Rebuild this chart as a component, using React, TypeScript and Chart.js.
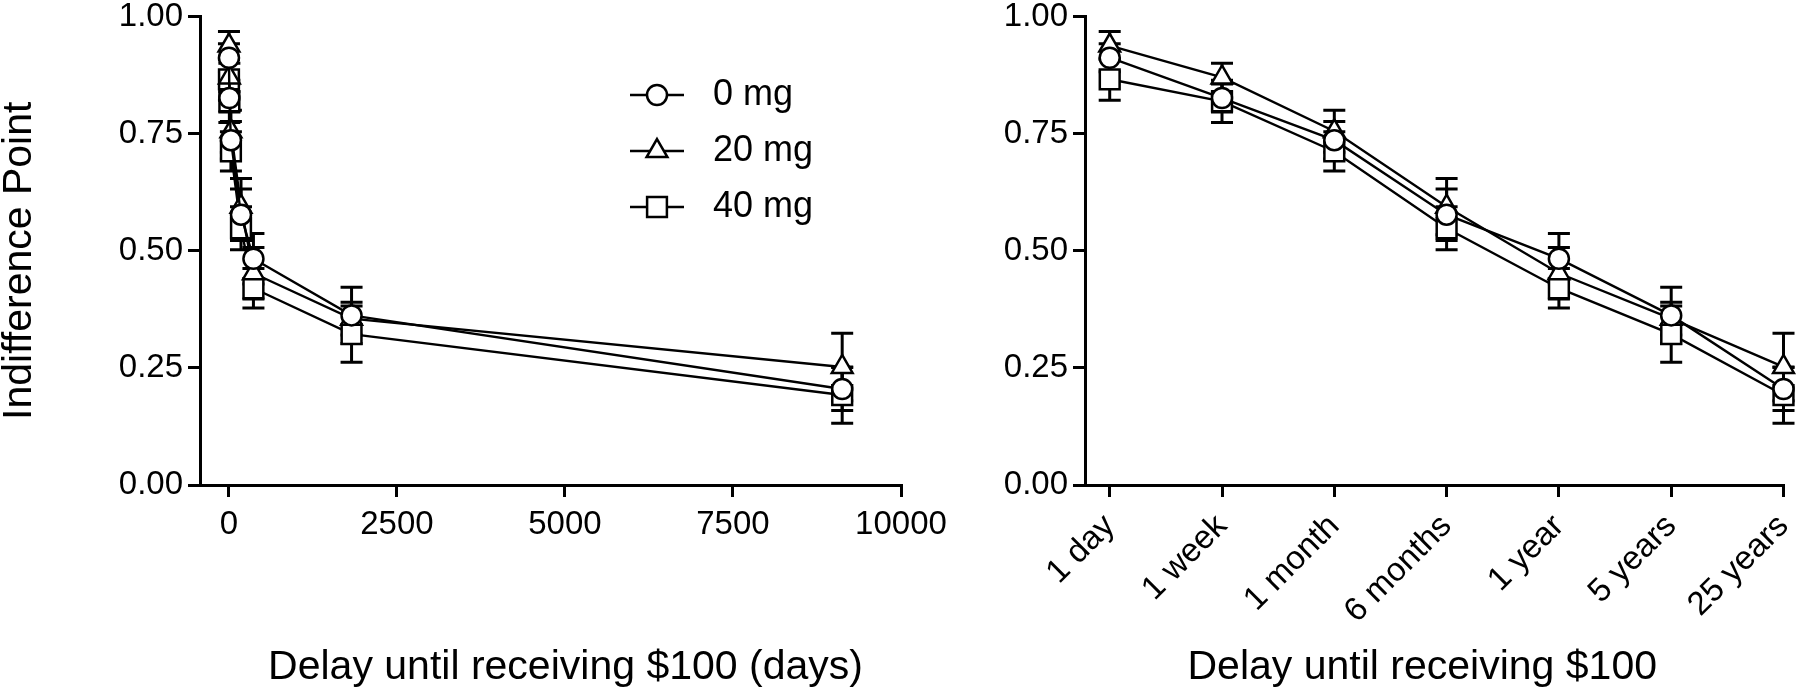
import { useEffect, useRef } from "react";
import { Chart, registerables } from "chart.js";
import { drawPoint } from "chart.js/helpers";

Chart.register(...registerables);

// delays as shown on the right panel, and the same delays in days for the left panel
const delayLabels = ["1 day", "1 week", "1 month", "6 months", "1 year", "5 years", "25 years"];
const delayDays = [1, 7, 30, 180, 365, 1825, 9125];
const dayTicks = [0, 2500, 5000, 7500, 10000];

const seriesNames = ["0 mg", "20 mg", "40 mg"];

// mean indifference point per delay
const mean0mg = [0.912, 0.826, 0.736, 0.577, 0.483, 0.362, 0.205];
const mean20mg = [0.938, 0.87, 0.755, 0.594, 0.452, 0.355, 0.252];
const mean40mg = [0.866, 0.819, 0.712, 0.548, 0.42, 0.322, 0.192];

// standard errors
const sem0mg = [0.03, 0.03, 0.04, 0.055, 0.054, 0.06, 0.046];
const sem20mg = [0.03, 0.03, 0.045, 0.06, 0.055, 0.035, 0.072];
const sem40mg = [0.045, 0.045, 0.042, 0.046, 0.042, 0.06, 0.06];

const FONT = "'Liberation Sans', Arial, Helvetica, sans-serif";
const tickFont = { family: FONT, size: 33 };

const seriesStyle = [
  { pointStyle: "circle", pointRadius: 10 },
  { pointStyle: "triangle", pointRadius: 12 },
  { pointStyle: "rect", pointRadius: 14 },
];

const means = [mean0mg, mean20mg, mean40mg];
const sems = [sem0mg, sem20mg, sem40mg];

function buildDatasets(xs: number[]) {
  return seriesNames.map((name, s) => ({
    label: name,
    data: means[s].map((v, i) => ({ x: xs[i], y: v })),
    sem: sems[s],
    borderColor: "#000",
    borderWidth: 2.4,
    tension: 0,
    pointStyle: seriesStyle[s].pointStyle,
    pointRadius: seriesStyle[s].pointRadius,
    pointHoverRadius: seriesStyle[s].pointRadius,
    pointBorderWidth: 2.5,
    pointBackgroundColor: "#fff",
    pointBorderColor: "#000",
    clip: false,
  }));
}

const errorBars = {
  id: "errorBars",
  beforeDatasetsDraw(chart: any) {
    const { ctx } = chart;
    const xs = chart.scales.x;
    const ys = chart.scales.y;
    ctx.save();
    ctx.strokeStyle = "#000";
    ctx.lineWidth = 3;
    chart.data.datasets.forEach((ds: any) => {
      ds.data.forEach((p: any, i: number) => {
        const e = ds.sem[i];
        const px = xs.getPixelForValue(p.x);
        const top = ys.getPixelForValue(p.y + e);
        const bot = ys.getPixelForValue(p.y - e);
        ctx.beginPath();
        ctx.moveTo(px, top);
        ctx.lineTo(px, bot);
        ctx.moveTo(px - 11, top);
        ctx.lineTo(px + 11, top);
        ctx.moveTo(px - 11, bot);
        ctx.lineTo(px + 11, bot);
        ctx.stroke();
      });
    });
    ctx.restore();
  },
};

// legend inside the left panel: line segment with the marker, then the label
const lineLegend = {
  id: "lineLegend",
  afterDraw(chart: any, _args: any, opts: any) {
    if (!opts.show) return;
    const { ctx } = chart;
    ctx.save();
    chart.data.datasets.forEach((ds: any, i: number) => {
      const y = opts.top + i * opts.rowGap;
      ctx.strokeStyle = "#000";
      ctx.lineWidth = 2.4;
      ctx.beginPath();
      ctx.moveTo(opts.left, y);
      ctx.lineTo(opts.left + opts.lineLen, y);
      ctx.stroke();
      ctx.fillStyle = "#fff";
      ctx.lineWidth = 2.5;
      drawPoint(ctx, { pointStyle: ds.pointStyle, radius: ds.pointRadius, rotation: 0, borderWidth: 2.5 }, opts.left + opts.lineLen / 2, y);
      ctx.fillStyle = "#000";
      ctx.font = `36px ${FONT}`;
      ctx.textBaseline = "middle";
      ctx.textAlign = "left";
      ctx.fillText(ds.label, opts.left + opts.lineLen + 29, y);
    });
    ctx.restore();
  },
};

// axis titles, placed a little off the plot centre like the original figure
const axisTitles = {
  id: "axisTitles",
  afterDraw(chart: any, _args: any, opts: any) {
    const { ctx, chartArea } = chart;
    ctx.save();
    ctx.fillStyle = "#000";
    ctx.font = `41px ${FONT}`;
    ctx.textAlign = "center";
    ctx.textBaseline = "middle";
    if (opts.x) {
      ctx.fillText(opts.x, (chartArea.left + chartArea.right) / 2 + opts.xShift, chart.height - opts.xFromBottom);
    }
    if (opts.y) {
      ctx.translate(opts.yLeft, (chartArea.top + chartArea.bottom) / 2 + opts.yShift);
      ctx.rotate(-Math.PI / 2);
      ctx.fillText(opts.y, 0, 0);
    }
    ctx.restore();
  },
};

function yScale(width: number) {
  return {
    type: "linear",
    min: 0,
    max: 1,
    border: { display: true, color: "#000", width: 3 },
    grid: { drawOnChartArea: false, drawTicks: true, tickLength: 12, color: "#000", lineWidth: 3 },
    ticks: {
      stepSize: 0.25,
      padding: 5,
      color: "#000",
      font: tickFont,
      callback: (v: any) => Number(v).toFixed(2),
    },
    afterFit: (s: any) => {
      s.width = width;
      s.paddingTop = 0;
      s.paddingBottom = 0;
    },
  };
}

function xAxisFit(s: any) {
  s.height = 205;
  s.paddingLeft = 0;
  s.paddingRight = 0;
}

function DaysChart() {
  const canvasRef = useRef<HTMLCanvasElement>(null);

  useEffect(() => {
    const ctx = canvasRef.current?.getContext("2d");
    if (!ctx) return;
    const chart = new Chart(ctx, {
      type: "line",
      data: { datasets: buildDatasets(delayDays) as any },
      plugins: [errorBars, lineLegend, axisTitles],
      options: {
        responsive: true,
        maintainAspectRatio: false,
        animation: false,
        layout: { padding: { top: 16, right: 59, bottom: 0, left: 0 } },
        plugins: {
          legend: { display: false },
          tooltip: { enabled: false },
          lineLegend: { show: true, left: 630, lineLen: 54, top: 95, rowGap: 56 },
          axisTitles: {
            x: "Delay until receiving $100 (days)",
            xShift: 15,
            xFromBottom: 22,
            y: "Indifference Point",
            yLeft: 20,
            yShift: 10,
          },
        } as any,
        scales: {
          x: {
            type: "linear",
            min: -430,
            max: 10000,
            border: { display: true, color: "#000", width: 3 },
            grid: { drawOnChartArea: false, drawTicks: true, tickLength: 12, color: "#000", lineWidth: 3 },
            ticks: {
              padding: 8,
              color: "#000",
              font: tickFont,
              maxRotation: 0,
              callback: (v: any) => String(v),
            },
            afterBuildTicks: (s: any) => {
              s.ticks = dayTicks.map((v) => ({ value: v }));
            },
            afterFit: xAxisFit,
          },
          y: yScale(200),
        } as any,
      },
    });
    return () => chart.destroy();
  }, []);

  return (
    <div style={{ position: "absolute", left: 0, top: 0, width: 960, height: 690 }}>
      <canvas ref={canvasRef} />
    </div>
  );
}

function LabelChart() {
  const canvasRef = useRef<HTMLCanvasElement>(null);

  useEffect(() => {
    const ctx = canvasRef.current?.getContext("2d");
    if (!ctx) return;
    const chart = new Chart(ctx, {
      type: "line",
      data: { datasets: buildDatasets(delayLabels.map((_, i) => i)) as any },
      plugins: [errorBars, axisTitles],
      options: {
        responsive: true,
        maintainAspectRatio: false,
        animation: false,
        layout: { padding: { top: 16, right: 10, bottom: 0, left: 0 } },
        plugins: {
          legend: { display: false },
          tooltip: { enabled: false },
          axisTitles: {
            x: "Delay until receiving $100",
            xShift: -12,
            xFromBottom: 22,
          },
        } as any,
        scales: {
          x: {
            type: "linear",
            min: -0.22,
            max: delayLabels.length - 1,
            border: { display: true, color: "#000", width: 3 },
            grid: { drawOnChartArea: false, drawTicks: true, tickLength: 12, color: "#000", lineWidth: 3 },
            ticks: {
              autoSkip: false,
              padding: 10,
              color: "#000",
              font: tickFont,
              minRotation: 45,
              maxRotation: 45,
              callback: (v: any) => delayLabels[v] ?? "",
            },
            afterBuildTicks: (s: any) => {
              s.ticks = delayLabels.map((_, i) => ({ value: i }));
            },
            afterFit: xAxisFit,
          },
          y: yScale(125),
        } as any,
      },
    });
    return () => chart.destroy();
  }, []);

  return (
    <div style={{ position: "absolute", left: 960, top: 0, width: 840, height: 690 }}>
      <canvas ref={canvasRef} />
    </div>
  );
}

export default function App() {
  return (
    <div style={{ position: "fixed", left: 0, top: 0, width: 1800, height: 690, background: "#fff" }}>
      <DaysChart />
      <LabelChart />
    </div>
  );
}
